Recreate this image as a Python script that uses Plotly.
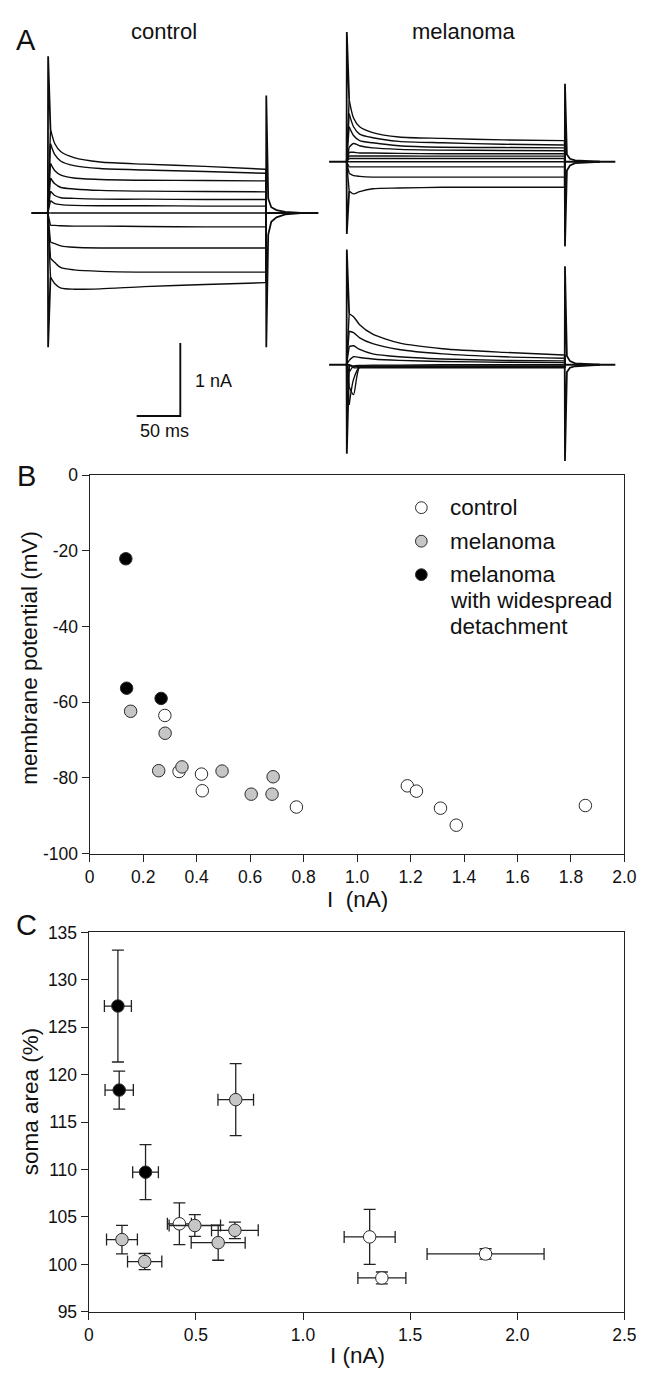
import plotly.graph_objects as go

W, H = 652, 1378
FONT = "Liberation Sans, Arial, sans-serif"
INK = "#0d0d0d"

# ---------------- Panel A: whole-cell current traces (nA) ----------------
A_KNOT_T = [3, 8, 15, 30, 60, 110, 180, 249]      # ms after step onset
A_STEP_END = 250
A_TAIL_T = [252.5, 256, 262, 272, 290]

CONTROL_TRACES = [
    [1.15, 0.95, 0.84, 0.76, 0.70, 0.67, 0.64, 0.60],
    [0.95, 0.80, 0.71, 0.65, 0.61, 0.59, 0.57, 0.545],
    [0.68, 0.58, 0.52, 0.48, 0.46, 0.45, 0.445, 0.44],
    [0.48, 0.40, 0.35, 0.33, 0.31, 0.30, 0.295, 0.29],
    [0.30, 0.24, 0.21, 0.20, 0.19, 0.19, 0.185, 0.185],
    [0.17, 0.13, 0.115, 0.105, 0.10, 0.10, 0.095, 0.095],
    [0.0, 0.0, 0.0, 0.0, 0.0, 0.0, 0.0, 0.0],
    [-0.17, -0.17, -0.175, -0.18, -0.18, -0.185, -0.19, -0.19],
    [-0.40, -0.42, -0.45, -0.47, -0.48, -0.48, -0.48, -0.48],
    [-0.62, -0.68, -0.75, -0.78, -0.80, -0.81, -0.81, -0.81],
    [-0.88, -0.97, -1.03, -1.045, -1.04, -1.01, -0.98, -0.955],
]
CONTROL_SPIKE = [2.15, -1.84, 1.61, -1.84]   # onset up, onset down, offset up, offset down
CONTROL_TAIL_UP = [0.20, 0.08, 0.04, 0.015, 0.0]
CONTROL_TAIL_DOWN = [-0.30, -0.12, -0.06, -0.02, 0.0]
CONTROL_T_SPAN = [-19, 310]

MEL1_TRACES = [
    [0.85, 0.60, 0.48, 0.40, 0.34, 0.32, 0.30, 0.29],
    [0.66, 0.48, 0.38, 0.33, 0.28, 0.26, 0.24, 0.23],
    [0.48, 0.36, 0.29, 0.26, 0.22, 0.20, 0.195, 0.19],
    [0.20, 0.25, 0.22, 0.19, 0.17, 0.16, 0.155, 0.15],
    [0.13, 0.13, 0.12, 0.12, 0.115, 0.11, 0.11, 0.11],
    [0.08, 0.08, 0.08, 0.08, 0.078, 0.077, 0.077, 0.077],
    [0.045, 0.045, 0.045, 0.045, 0.045, 0.045, 0.045, 0.045],
    [0.0, 0.0, 0.0, 0.0, 0.0, 0.0, 0.0, 0.0],
    [-0.07, -0.07, -0.07, -0.07, -0.07, -0.07, -0.07, -0.07],
    [-0.16, -0.19, -0.20, -0.21, -0.21, -0.21, -0.21, -0.21],
    [-0.40, -0.44, -0.41, -0.37, -0.36, -0.35, -0.35, -0.35],
]
MEL1_SPIKE = [1.78, -0.99, 1.07, -1.16]
MEL1_TAIL_UP = [0.10, 0.04, 0.02, 0.01, 0.0]
MEL1_TAIL_DOWN = [-0.12, -0.05, -0.02, -0.01, 0.0]
MEL_T_SPAN = [-20, 308]

MEL2_TRACES = [
    [0.70, 0.66, 0.55, 0.42, 0.30, 0.22, 0.17, 0.135],
    [0.46, 0.44, 0.37, 0.29, 0.21, 0.15, 0.11, 0.09],
    [0.25, 0.26, 0.21, 0.15, 0.11, 0.08, 0.06, 0.054],
    [0.06, 0.11, 0.10, 0.08, 0.06, 0.045, 0.035, 0.03],
    [-0.30, -0.41, -0.03, -0.02, -0.015, -0.015, -0.015, -0.015],
    [-0.55, -0.20, -0.03, -0.03, -0.03, -0.03, -0.03, -0.03],
    [-0.10, -0.02, -0.01, -0.005, -0.005, 0.0, 0.0, 0.0],
    [0.0, -0.04, -0.04, -0.04, -0.04, -0.04, -0.04, -0.04],
    [0.0, -0.02, -0.02, -0.02, -0.025, -0.025, -0.025, -0.025],
]
MEL2_SPIKE = [1.58, -1.22, 1.35, -1.32]
MEL2_TAIL_UP = [0.12, 0.05, 0.02, 0.01, 0.0]
MEL2_TAIL_DOWN = [-0.10, -0.04, -0.02, -0.01, 0.0]

SCALE_BAR_MS = 50
SCALE_BAR_NA = 1

# ---------------- Panel B: membrane potential vs current ----------------
SERIES_NAMES = ["control", "melanoma", "melanoma<br>with widespread<br>detachment"]
SERIES_FILL = ["#ffffff", "#c6c6c6", "#000000"]

B_CTRL_I = [0.281, 0.334, 0.418, 0.421, 0.773, 1.188, 1.222, 1.312, 1.371, 1.854]
B_CTRL_V = [-63.5, -78.3, -79.0, -83.4, -87.7, -82.1, -83.5, -88.0, -92.5, -87.3]
B_MEL_I = [0.153, 0.282, 0.258, 0.345, 0.495, 0.604, 0.682, 0.686]
B_MEL_V = [-62.4, -68.2, -78.1, -77.1, -78.2, -84.3, -84.3, -79.7]
B_DET_I = [0.135, 0.138, 0.267]
B_DET_V = [-22.1, -56.3, -59.0]
B_XTICKS = [0, 0.2, 0.4, 0.6, 0.8, 1.0, 1.2, 1.4, 1.6, 1.8, 2.0]
B_XLABELS = ["0", "0.2", "0.4", "0.6", "0.8", "1.0", "1.2", "1.4", "1.6", "1.8", "2.0"]
B_YTICKS = [-100, -80, -60, -40, -20, 0]
B_YLABELS = ["-100", "-80", "-60", "-40", "-20", "0"]

# ---------------- Panel C: soma area vs current (mean ± SEM) ----------------
C_CTRL_I = [0.423, 1.311, 1.368, 1.852]
C_CTRL_IERR = [0.056, 0.119, 0.112, 0.273]
C_CTRL_A = [104.28, 102.9, 98.57, 101.1]
C_CTRL_AERR = [2.2, 2.9, 0.63, 0.55]
C_MEL_I = [0.155, 0.261, 0.495, 0.604, 0.682, 0.686]
C_MEL_IERR = [0.072, 0.08, 0.12, 0.126, 0.109, 0.083]
C_MEL_A = [102.62, 100.3, 104.1, 102.29, 103.59, 117.37]
C_MEL_AERR = [1.5, 0.85, 1.15, 1.85, 0.87, 3.8]
C_DET_I = [0.136, 0.142, 0.265]
C_DET_IERR = [0.063, 0.066, 0.06]
C_DET_A = [127.24, 118.38, 109.72]
C_DET_AERR = [5.9, 2.0, 2.9]
C_XTICKS = [0, 0.5, 1.0, 1.5, 2.0, 2.5]
C_XLABELS = ["0", "0.5", "1.0", "1.5", "2.0", "2.5"]
C_YTICKS = [95, 100, 105, 110, 115, 120, 125, 130, 135]


# ---------------- helpers (layout in pixels) ----------------
def xdom(left, right):
    return [left / W, right / W]


def ydom(top, bottom):
    return [1 - bottom / H, 1 - top / H]


def px(x):
    return x / W


def py(y):
    return 1 - y / H


PX_PER_MS = 0.896
PX_PER_NA = 74.0


def trace_axes(dom_l, dom_r, dom_t, dom_b, onset_px, base_px):
    xr = [(dom_l - onset_px) / PX_PER_MS, (dom_r - onset_px) / PX_PER_MS]
    yr = [(base_px - dom_b) / PX_PER_NA, (base_px - dom_t) / PX_PER_NA]
    xa = dict(domain=xdom(dom_l, dom_r), range=xr, visible=False, fixedrange=True)
    ya = dict(domain=ydom(dom_t, dom_b), range=yr, visible=False, fixedrange=True)
    return xa, ya


fig = go.Figure()


def line(x, y, xa, ya, width=1.4, shape="linear"):
    fig.add_trace(go.Scatter(x=x, y=y, mode="lines", xaxis=xa, yaxis=ya,
                             line=dict(color=INK, width=width, shape=shape, smoothing=0.7),
                             showlegend=False, hoverinfo="skip"))


def draw_traces(traces, spike, tail_up, tail_down, t_span, xa, ya):
    for vals in traces:
        line(A_KNOT_T, vals, xa, ya, shape="spline")
        line([0, A_KNOT_T[0], None, A_KNOT_T[-1], A_STEP_END, A_STEP_END + 0.3],
             [0, vals[0], None, vals[-1], vals[-1], 0], xa, ya)
    line([t_span[0], 0, None, A_STEP_END, t_span[1]], [0, 0, None, 0, 0], xa, ya, width=1.8)
    top = max(traces, key=lambda v: v[0])
    bot = min(traces, key=lambda v: v[-1])
    line([0, 0.3, A_KNOT_T[0]], [0, spike[0], top[0]], xa, ya, width=1.8)
    line([0, 0.3, A_KNOT_T[0]], [0, spike[1], bot[0]], xa, ya, width=1.8)
    line([A_STEP_END, A_STEP_END + 0.3] + A_TAIL_T, [top[-1], spike[3]] + tail_down, xa, ya, width=1.8)
    line([A_STEP_END, A_STEP_END + 0.3] + A_TAIL_T, [bot[-1], spike[2]] + tail_up, xa, ya, width=1.8)


# panel A axes
xa1, ya1 = trace_axes(20, 330, 30, 450, 44, 206)
xa2, ya2 = trace_axes(330, 645, 8, 250, 350.7, 154)
xa3, ya3 = trace_axes(330, 645, 230, 470, 350.7, 360)

draw_traces(CONTROL_TRACES, CONTROL_SPIKE, CONTROL_TAIL_UP, CONTROL_TAIL_DOWN, CONTROL_T_SPAN, "x", "y")
draw_traces(MEL1_TRACES, MEL1_SPIKE, MEL1_TAIL_UP, MEL1_TAIL_DOWN, MEL_T_SPAN, "x2", "y2")
draw_traces(MEL2_TRACES, MEL2_SPIKE, MEL2_TAIL_UP, MEL2_TAIL_DOWN, MEL_T_SPAN, "x3", "y3")

# scale bar (in control-trace data units), corner placed below the traces
bar_t = (180 - 44) / PX_PER_MS
bar_y = (206 - 412) / PX_PER_NA
line([bar_t - SCALE_BAR_MS, bar_t, bar_t], [bar_y, bar_y, bar_y + SCALE_BAR_NA], "x", "y", width=1.9)

# ---------------- Panel B ----------------
mk_line = dict(color="#2a2a2a", width=1)
for xs, ys, fill in [(B_CTRL_I, B_CTRL_V, SERIES_FILL[0]),
                     (B_MEL_I, B_MEL_V, SERIES_FILL[1]),
                     (B_DET_I, B_DET_V, SERIES_FILL[2])]:
    fig.add_trace(go.Scatter(x=xs, y=ys, mode="markers", xaxis="x4", yaxis="y4",
                             marker=dict(size=12.5, color=fill, line=mk_line),
                             showlegend=False, hoverinfo="skip"))

# ---------------- Panel C ----------------
for xs, xe, ys, ye, fill in [(C_CTRL_I, C_CTRL_IERR, C_CTRL_A, C_CTRL_AERR, SERIES_FILL[0]),
                             (C_MEL_I, C_MEL_IERR, C_MEL_A, C_MEL_AERR, SERIES_FILL[1]),
                             (C_DET_I, C_DET_IERR, C_DET_A, C_DET_AERR, SERIES_FILL[2])]:
    fig.add_trace(go.Scatter(x=xs, y=ys, mode="markers", xaxis="x5", yaxis="y5",
                             error_x=dict(type="data", array=xe, color="#222", thickness=1.3, width=6),
                             error_y=dict(type="data", array=ye, color="#222", thickness=1.3, width=6),
                             marker=dict(size=12.5, color=fill, line=mk_line),
                             showlegend=False, hoverinfo="skip"))

tickfont = dict(family=FONT, size=17.5, color="#111")
common = dict(showline=True, linecolor="#222", linewidth=1.3, mirror=True, ticks="outside",
              ticklen=7, tickwidth=1.2, tickcolor="#222", showgrid=False, zeroline=False,
              tickfont=tickfont, fixedrange=True)

layout_axes = dict(
    xaxis=xa1, yaxis=ya1, xaxis2=xa2, yaxis2=ya2, xaxis3=xa3, yaxis3=ya3,
    xaxis4=dict(domain=xdom(87, 636), range=[0, 2.0], tickvals=B_XTICKS, ticktext=B_XLABELS,
                anchor="y4", **common),
    yaxis4=dict(domain=ydom(472, 856), range=[-100, 0], tickvals=B_YTICKS, ticktext=B_YLABELS,
                anchor="x4", **common),
    xaxis5=dict(domain=xdom(86, 636), range=[0, 2.5], tickvals=C_XTICKS, ticktext=C_XLABELS,
                anchor="y5", **common),
    yaxis5=dict(domain=ydom(936, 1321), range=[95, 135], tickvals=C_YTICKS, anchor="x5", **common),
)

ann = []


def text(t, x, y, size, xanchor="center", yanchor="middle", angle=0):
    ann.append(dict(text=t, x=px(x), y=py(y), xref="paper", yref="paper", showarrow=False,
                    xanchor=xanchor, yanchor=yanchor, textangle=angle,
                    font=dict(family=FONT, size=size, color="#111")))


text("A", 22, 30, 29)
text("B", 22, 473, 29)
text("C", 22, 928, 29)
text("control", 163, 22, 22)
text("melanoma", 471, 22, 22)
text("1 nA", 193, 376, 18, xanchor="left")
text("50 ms", 164, 427, 18)
text("membrane potential (mV)", 25, 657, 22.5, angle=-90)
text("I  (nA)", 362, 903, 22.5)
text("soma area (%)", 27, 1107, 22.5, angle=-90)
text("I (nA)", 362, 1365, 22.5)

# legend of panel B
shapes = []
legend_rows = [505, 539, 573]
line_gap = 26.5
for name, fill, ry in zip(SERIES_NAMES, SERIES_FILL, legend_rows):
    shapes.append(dict(type="circle", xref="paper", yref="paper",
                       x0=px(427.5 - 6), x1=px(427.5 + 6), y0=py(ry + 6), y1=py(ry - 6),
                       fillcolor=fill, line=dict(color="#2a2a2a", width=1)))
    for k, part in enumerate(name.split("<br>")):
        text(part, 455, ry + k * line_gap, 22.5, xanchor="left")

fig.update_layout(
    width=W, height=H, margin=dict(l=0, r=0, t=0, b=0),
    paper_bgcolor="white", plot_bgcolor="rgba(0,0,0,0)",
    showlegend=False, annotations=ann, shapes=shapes,
    font=dict(family=FONT, color="#111"),
    **layout_axes,
)

fig.write_html("out.html", config={"displayModeBar": False},
               post_script="document.body.style.margin='0';document.body.style.overflow='hidden';")
